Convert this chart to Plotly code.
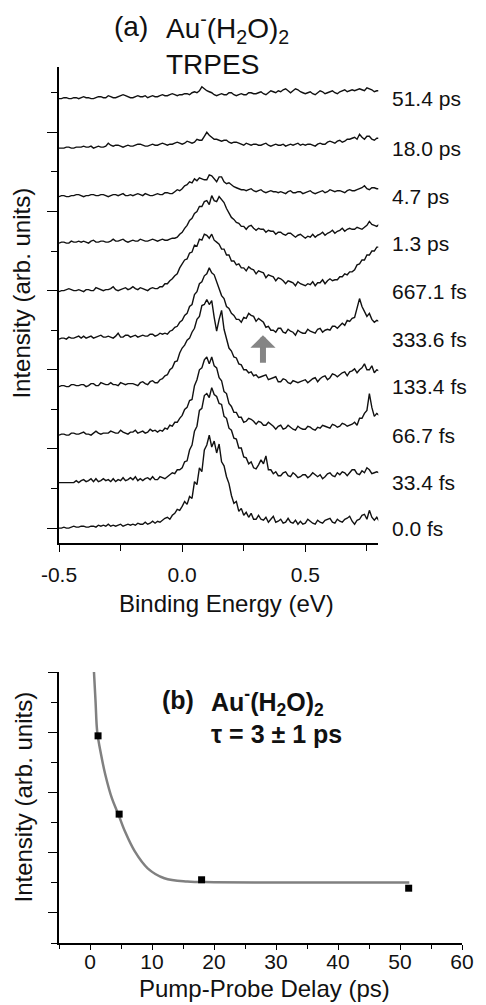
import plotly.graph_objects as go

# ---------------- data: panel (a) TRPES spectra ----------------
energy_ev = [-0.50, -0.49, -0.48, -0.47, -0.46, -0.45, -0.44, -0.43, -0.42, -0.41,
             -0.40, -0.39, -0.38, -0.37, -0.36, -0.35, -0.34, -0.33, -0.32, -0.31,
             -0.30, -0.29, -0.28, -0.27, -0.26, -0.25, -0.24, -0.23, -0.22, -0.21,
             -0.20, -0.19, -0.18, -0.17, -0.16, -0.15, -0.14, -0.13, -0.12, -0.11,
             -0.10, -0.09, -0.08, -0.07, -0.06, -0.05, -0.04, -0.03, -0.02, -0.01,
             0.00, 0.01, 0.02, 0.03, 0.04, 0.05, 0.06, 0.07, 0.08, 0.09,
             0.10, 0.11, 0.12, 0.13, 0.14, 0.15, 0.16, 0.17, 0.18, 0.19,
             0.20, 0.21, 0.22, 0.23, 0.24, 0.25, 0.26, 0.27, 0.28, 0.29,
             0.30, 0.31, 0.32, 0.33, 0.34, 0.35, 0.36, 0.37, 0.38, 0.39,
             0.40, 0.41, 0.42, 0.43, 0.44, 0.45, 0.46, 0.47, 0.48, 0.49,
             0.50, 0.51, 0.52, 0.53, 0.54, 0.55, 0.56, 0.57, 0.58, 0.59,
             0.60, 0.61, 0.62, 0.63, 0.64, 0.65, 0.66, 0.67, 0.68, 0.69,
             0.70, 0.71, 0.72, 0.73, 0.74, 0.75, 0.76, 0.77, 0.78, 0.79,
             0.80]

delay_labels = ["0.0 fs", "33.4 fs", "66.7 fs", "133.4 fs", "333.6 fs",
                "667.1 fs", "1.3 ps", "4.7 ps", "18.0 ps", "51.4 ps"]
trace_offsets = [0, 46, 94, 143, 191, 239, 288, 335, 384, 434]

int_0fs = [0, 0, 1, 0, 0, 1, 2, 1, 1, 2,
           2, 1, 1, 2, 2, 1, 3, 2, 3, 2,
           4, 2, 3, 2, 3, 4, 2, 3, 4, 3,
           4, 3, 5, 4, 4, 6, 4, 5, 7, 5,
           7, 6, 8, 10, 11, 9, 13, 15, 19, 18,
           22, 27, 24, 32, 30, 47, 44, 61, 57, 79,
           84, 94, 82, 88, 76, 85, 67, 63, 52, 45,
           33, 25, 27, 17, 20, 13, 16, 11, 15, 9,
           9, 13, 9, 8, 11, 6, 9, 12, 6, 7,
           9, 5, 6, 10, 6, 5, 8, 4, 7, 4,
           5, 9, 7, 5, 4, 8, 6, 5, 8, 9,
           10, 6, 5, 9, 7, 6, 9, 10, 12, 7,
           4, 8, 9, 13, 14, 9, 18, 11, 8, 11,
           7]
int_33fs = [0, 0, 0, 0, 0, 0, 0, 2, 0, 2,
            3, 1, 2, 4, 1, 4, 1, 2, 4, 2,
            3, 1, 4, 1, 3, 2, 5, 2, 3, 5,
            3, 6, 2, 4, 2, 4, 5, 3, 6, 3,
            3, 6, 5, 4, 6, 8, 10, 9, 13, 13,
            15, 21, 22, 33, 38, 52, 57, 73, 75, 88,
            90, 86, 96, 89, 87, 80, 79, 67, 65, 55,
            53, 45, 44, 35, 35, 26, 25, 19, 21, 15,
            14, 18, 23, 19, 27, 13, 13, 9, 11, 7,
            7, 10, 11, 7, 6, 10, 8, 5, 6, 8,
            8, 5, 7, 10, 8, 6, 8, 4, 6, 9,
            10, 7, 6, 10, 8, 11, 10, 7, 10, 13,
            13, 9, 8, 12, 10, 15, 13, 9, 10, 11,
            10]
int_67fs = [0, 1, 1, 0, 0, 2, 2, 1, 1, 2,
            3, 1, 1, 0, 2, 4, 2, 1, 2, 2,
            2, 4, 3, 2, 2, 5, 3, 2, 1, 3,
            3, 5, 2, 3, 4, 2, 3, 6, 4, 5,
            3, 5, 4, 7, 6, 10, 9, 13, 13, 17,
            20, 26, 28, 35, 36, 50, 56, 66, 68, 76,
            79, 72, 79, 70, 68, 58, 55, 44, 42, 32,
            29, 23, 23, 18, 18, 13, 14, 17, 16, 14,
            11, 14, 13, 10, 10, 13, 11, 9, 6, 9,
            10, 6, 7, 10, 8, 6, 5, 9, 7, 6,
            6, 9, 8, 6, 5, 8, 7, 10, 9, 8,
            7, 11, 10, 8, 9, 12, 11, 9, 10, 11,
            13, 10, 17, 17, 22, 25, 42, 28, 19, 22,
            20]
int_133fs = [0, 1, 1, 0, 0, 2, 2, 1, 1, 2,
             2, 0, 1, 3, 3, 1, 1, 4, 3, 2,
             2, 4, 2, 2, 1, 4, 3, 2, 3, 3,
             3, 2, 1, 4, 5, 3, 2, 5, 6, 4,
             4, 7, 8, 11, 12, 17, 19, 25, 26, 34,
             39, 42, 47, 49, 55, 59, 68, 71, 82, 83,
             88, 83, 87, 70, 56, 68, 77, 58, 49, 39,
             36, 30, 29, 23, 22, 17, 17, 14, 15, 11,
             12, 9, 10, 11, 12, 7, 8, 9, 10, 5,
             5, 8, 7, 4, 3, 6, 5, 4, 5, 6,
             7, 4, 6, 8, 9, 5, 8, 10, 11, 7,
             9, 13, 12, 10, 12, 14, 15, 11, 15, 16,
             18, 14, 17, 19, 23, 17, 17, 21, 14, 17,
             16]
int_334fs = [0, 1, 1, 0, 2, 1, 1, 2, 3, 1,
             3, 1, 2, 3, 1, 2, 3, 4, 2, 2,
             3, 2, 1, 3, 6, 2, 2, 4, 4, 2,
             3, 4, 2, 3, 4, 3, 3, 5, 5, 3,
             4, 6, 5, 6, 5, 8, 9, 12, 13, 17,
             19, 24, 26, 33, 35, 45, 48, 56, 58, 64,
             66, 72, 67, 65, 58, 53, 44, 41, 33, 31,
             26, 24, 20, 20, 17, 22, 21, 26, 24, 23,
             18, 21, 19, 17, 12, 13, 9, 9, 7, 11,
             11, 7, 6, 10, 8, 7, 4, 9, 7, 6,
             6, 10, 8, 7, 6, 10, 11, 7, 9, 10,
             9, 13, 13, 11, 14, 16, 14, 19, 18, 21,
             22, 31, 41, 33, 28, 23, 26, 20, 17, 19,
             18]
int_667fs = [0, 1, 1, 2, 3, 2, 1, 1, 2, 1,
             0, 2, 2, 1, 1, 4, 3, 2, 1, 2,
             2, 3, 5, 2, 1, 2, 3, 4, 2, 3,
             5, 3, 2, 4, 3, 2, 1, 3, 4, 3,
             3, 5, 5, 8, 8, 11, 13, 16, 18, 24,
             28, 32, 33, 39, 40, 47, 46, 53, 52, 58,
             57, 54, 58, 52, 50, 48, 43, 43, 37, 37,
             31, 31, 27, 28, 24, 24, 21, 25, 23, 22,
             18, 21, 20, 19, 14, 17, 16, 15, 11, 14,
             13, 11, 8, 11, 10, 9, 6, 10, 8, 7,
             6, 8, 7, 10, 6, 9, 9, 12, 8, 11,
             13, 11, 12, 12, 15, 15, 18, 17, 20, 20,
             22, 27, 28, 32, 32, 37, 37, 41, 41, 45,
             45]
int_1p3ps = [0, 1, 1, 0, 0, 2, 1, 1, 2, 1,
             2, 1, 0, 2, 3, 1, 1, 2, 2, 1,
             1, 2, 4, 2, 2, 3, 4, 2, 1, 2,
             3, 2, 2, 4, 3, 2, 2, 3, 4, 3,
             2, 3, 4, 3, 3, 4, 5, 5, 6, 9,
             11, 15, 18, 23, 25, 30, 32, 37, 37, 42,
             43, 39, 48, 43, 42, 47, 44, 41, 35, 31,
             26, 24, 21, 20, 17, 17, 14, 17, 18, 15,
             13, 15, 14, 14, 11, 13, 12, 12, 9, 11,
             11, 9, 8, 10, 10, 8, 6, 8, 9, 7,
             5, 7, 6, 9, 6, 8, 9, 11, 8, 10,
             11, 13, 10, 12, 13, 15, 12, 14, 15, 14,
             14, 16, 15, 14, 16, 18, 22, 19, 18, 17,
             19]
int_4p7ps = [0, 1, 1, 0, 0, 1, 1, 2, 2, 1,
             0, 1, 1, 2, 2, 1, 1, 2, 2, 1,
             0, 1, 2, 2, 1, 2, 3, 1, 1, 2,
             1, 2, 3, 2, 1, 3, 2, 1, 1, 2,
             3, 2, 2, 4, 4, 3, 3, 5, 7, 6,
             8, 11, 12, 15, 14, 18, 16, 19, 18, 17,
             17, 22, 21, 18, 15, 20, 20, 15, 13, 14,
             12, 10, 9, 8, 7, 7, 6, 7, 8, 6,
             5, 6, 7, 5, 4, 5, 6, 5, 5, 4,
             5, 4, 3, 5, 6, 4, 4, 5, 5, 3,
             4, 5, 6, 4, 3, 4, 5, 6, 4, 5,
             7, 6, 5, 6, 6, 5, 4, 6, 7, 6,
             6, 7, 8, 9, 11, 8, 7, 9, 9, 8,
             8]
int_18ps = [0, 0, 0, 1, 1, 0, 0, 1, 1, 1,
            2, 1, 1, 2, 0, 1, 2, 1, 1, 2,
            5, 3, 2, 3, 3, 2, 1, 2, 3, 2,
            2, 3, 4, 4, 3, 2, 2, 3, 4, 3,
            3, 4, 5, 4, 3, 4, 4, 5, 6, 5,
            4, 5, 7, 6, 5, 6, 9, 8, 8, 12,
            16, 13, 11, 9, 9, 8, 7, 8, 8, 6,
            5, 6, 6, 5, 4, 3, 5, 4, 3, 4,
            4, 3, 3, 4, 5, 3, 2, 3, 4, 3,
            3, 4, 2, 3, 4, 3, 4, 5, 3, 4,
            3, 4, 4, 3, 2, 4, 5, 4, 4, 6,
            7, 6, 5, 7, 8, 6, 7, 9, 9, 10,
            11, 9, 14, 11, 9, 12, 12, 9, 8, 10,
            10]
int_51ps = [0, 0, 1, 1, 0, 0, 1, 1, 0, 1,
            2, 1, 1, 0, 0, 1, 2, 2, 1, 1,
            3, 2, 1, 1, 2, 3, 4, 3, 2, 1,
            1, 2, 3, 2, 2, 3, 1, 2, 3, 2,
            2, 3, 4, 3, 3, 4, 5, 4, 3, 4,
            4, 5, 5, 4, 6, 7, 6, 8, 12, 10,
            8, 7, 6, 4, 3, 4, 5, 4, 4, 6,
            6, 4, 3, 4, 5, 4, 4, 6, 6, 5,
            5, 6, 7, 5, 4, 6, 8, 7, 6, 8,
            7, 9, 10, 8, 6, 8, 10, 9, 7, 6,
            5, 6, 7, 5, 4, 6, 8, 7, 5, 6,
            7, 8, 6, 5, 7, 8, 9, 7, 8, 9,
            8, 9, 10, 9, 8, 11, 10, 9, 7, 8,
            8]

spectra = [int_0fs, int_33fs, int_67fs, int_133fs, int_334fs,
           int_667fs, int_1p3ps, int_4p7ps, int_18ps, int_51ps]

# ---------------- data: panel (b) kinetics ----------------
delay_ps = [1.3, 4.7, 18.0, 51.4]
intensity_b = [2.94, 1.64, 0.55, 0.41]
fit_t = [0.64, 0.9, 1.17, 1.8, 2.48, 3.54, 4.6, 5.65, 7.23, 9.3, 12.0, 15.7, 20.0, 30.0, 40.0, 51.5]
fit_y = [4.0, 3.5, 3.0, 2.62, 2.29, 1.90, 1.63, 1.35, 1.02, 0.74, 0.575, 0.52, 0.51, 0.505, 0.505, 0.505]

xa_tickvals = [-0.5, 0.0, 0.5]
xa_ticktext = ["-0.5", "0.0", "0.5"]
xb_tickvals = [0, 10, 20, 30, 40, 50, 60]
xb_ticktext = ["0", "10", "20", "30", "40", "50", "60"]

# ---------------- layout geometry ----------------
W, H = 486, 1005
ML, MR, MT, MB = 59, 18, 67, 62
PW, PH = W - ML - MR, H - MT - MB


def px(xp, yp):
    return (xp - ML) / PW, (H - MB - yp) / PH


FONT = "Liberation Sans, Arial, Helvetica, sans-serif"
INK = "#111111"

fig = go.Figure()

for vals, off in zip(spectra, trace_offsets):
    fig.add_trace(go.Scatter(
        x=energy_ev, y=[v + off for v in vals], mode="lines",
        line=dict(color="#111111", width=1.4), xaxis="x", yaxis="y",
        showlegend=False, hoverinfo="skip"))

fig.add_trace(go.Scatter(
    x=fit_t, y=fit_y, mode="lines", line=dict(color="#808080", width=2.5, shape="spline"),
    xaxis="x2", yaxis="y2", showlegend=False))
fig.add_trace(go.Scatter(
    x=delay_ps, y=intensity_b, mode="markers",
    marker=dict(symbol="square", size=7, color="black"),
    xaxis="x2", yaxis="y2", showlegend=False))

ann = []
# delay labels at right of traces
lab_x = (395 - ML) / PW
for lab, off in zip(delay_labels, trace_offsets):
    ann.append(dict(x=lab_x, y=off, xref="paper", yref="y", text=lab, showarrow=False,
                    xanchor="left", yanchor="middle", font=dict(size=21, color=INK)))

# gray arrow
ann.append(dict(x=0.328, y=195, xref="x", yref="y", text="", showarrow=True,
                ax=0, ay=29, arrowhead=1, arrowsize=0.7, arrowwidth=6,
                arrowcolor="#858585"))

# titles panel (a)
x0, y0 = px(113, 27)
ann.append(dict(x=x0, y=y0, xref="paper", yref="paper", text="(a)", showarrow=False,
                xanchor="left", yanchor="middle", font=dict(size=28, color=INK)))
x0, y0 = px(166, 44)
ann.append(dict(x=x0, y=y0, xref="paper", yref="paper",
                text="Au<sup>-</sup>(H<sub>2</sub>O)<sub>2</sub><br>TRPES", showarrow=False,
                xanchor="left", yanchor="middle", align="left",
                font=dict(size=28, color=INK)))

# titles panel (b)
x0, y0 = px(162, 700)
ann.append(dict(x=x0, y=y0, xref="paper", yref="paper", text="<b>(b)</b>", showarrow=False,
                xanchor="left", yanchor="middle", font=dict(size=25, color=INK)))
x0, y0 = px(211, 716)
ann.append(dict(x=x0, y=y0, xref="paper", yref="paper",
                text="<b>Au<sup>-</sup>(H<sub>2</sub>O)<sub>2</sub></b><br><b>τ = 3 ± 1 ps</b>",
                showarrow=False, xanchor="left", yanchor="middle", align="left",
                font=dict(size=25, color=INK)))

# axis titles
x0, y0 = px(229, 603)
ann.append(dict(x=x0, y=y0, xref="paper", yref="paper", text="Binding Energy (eV)",
                showarrow=False, xanchor="center", yanchor="middle",
                font=dict(size=24, color=INK)))
x0, y0 = px(268, 988)
ann.append(dict(x=x0, y=y0, xref="paper", yref="paper", text="Pump-Probe Delay (ps)",
                showarrow=False, xanchor="center", yanchor="middle",
                font=dict(size=24, color=INK)))
x0, y0 = px(20, 293)
ann.append(dict(x=x0, y=y0, xref="paper", yref="paper", text="Intensity (arb. units)",
                showarrow=False, xanchor="center", yanchor="middle", textangle=-90,
                font=dict(size=24, color=INK)))
x0, y0 = px(22, 797)
ann.append(dict(x=x0, y=y0, xref="paper", yref="paper", text="Intensity (arb. units)",
                showarrow=False, xanchor="center", yanchor="middle", textangle=-90,
                font=dict(size=24, color=INK)))

axis_common = dict(showline=True, linecolor="black", linewidth=1.5, showgrid=False,
                   zeroline=False, ticks="outside", tickcolor="black", tickwidth=1.3,
                   tickfont=dict(size=21, color=INK, family=FONT))

xa_dom_end = (383 - ML) / PW
ya_dom_start = (H - MB - 543) / PH
yb_dom_end = (H - MB - 672) / PH

fig.update_layout(
    width=W, height=H, margin=dict(l=ML, r=MR, t=MT, b=MB),
    paper_bgcolor="white", plot_bgcolor="white",
    font=dict(family=FONT, color=INK),
    annotations=ann,
    xaxis=dict(domain=[0, xa_dom_end], anchor="y", range=[-0.5, 0.796],
               tickvals=xa_tickvals, ticktext=xa_ticktext, ticklen=7,
               minor=dict(dtick=0.25, tick0=-0.5, ticklen=6, ticks="outside",
                          tickcolor="black", tickwidth=1.2),
               ticklabelstandoff=5, **axis_common),
    yaxis=dict(domain=[ya_dom_start, 1], anchor="x", range=[-15, 466],
               tick0=0, dtick=80, ticklen=10, showticklabels=False,
               minor=dict(dtick=40, tick0=0, ticklen=6, ticks="outside",
                          tickcolor="black", tickwidth=1.2),
               **axis_common),
    xaxis2=dict(domain=[0, 1], anchor="y2", range=[-5, 60],
                tickvals=xb_tickvals, ticktext=xb_ticktext, ticklen=5,
                minor=dict(dtick=5, tick0=0, ticklen=4, ticks="outside",
                           tickcolor="black", tickwidth=1.2),
                ticklabelstandoff=-6, **axis_common),
    yaxis2=dict(domain=[0, yb_dom_end], anchor="x2", range=[-0.5, 4.0],
                tick0=0, dtick=1, ticklen=9, showticklabels=False,
                minor=dict(dtick=0.5, tick0=0, ticklen=6, ticks="outside",
                           tickcolor="black", tickwidth=1.2),
                **axis_common),
)

fig.write_html("out.html", config={"displayModeBar": False},
               post_script="document.body.style.margin='0';")
